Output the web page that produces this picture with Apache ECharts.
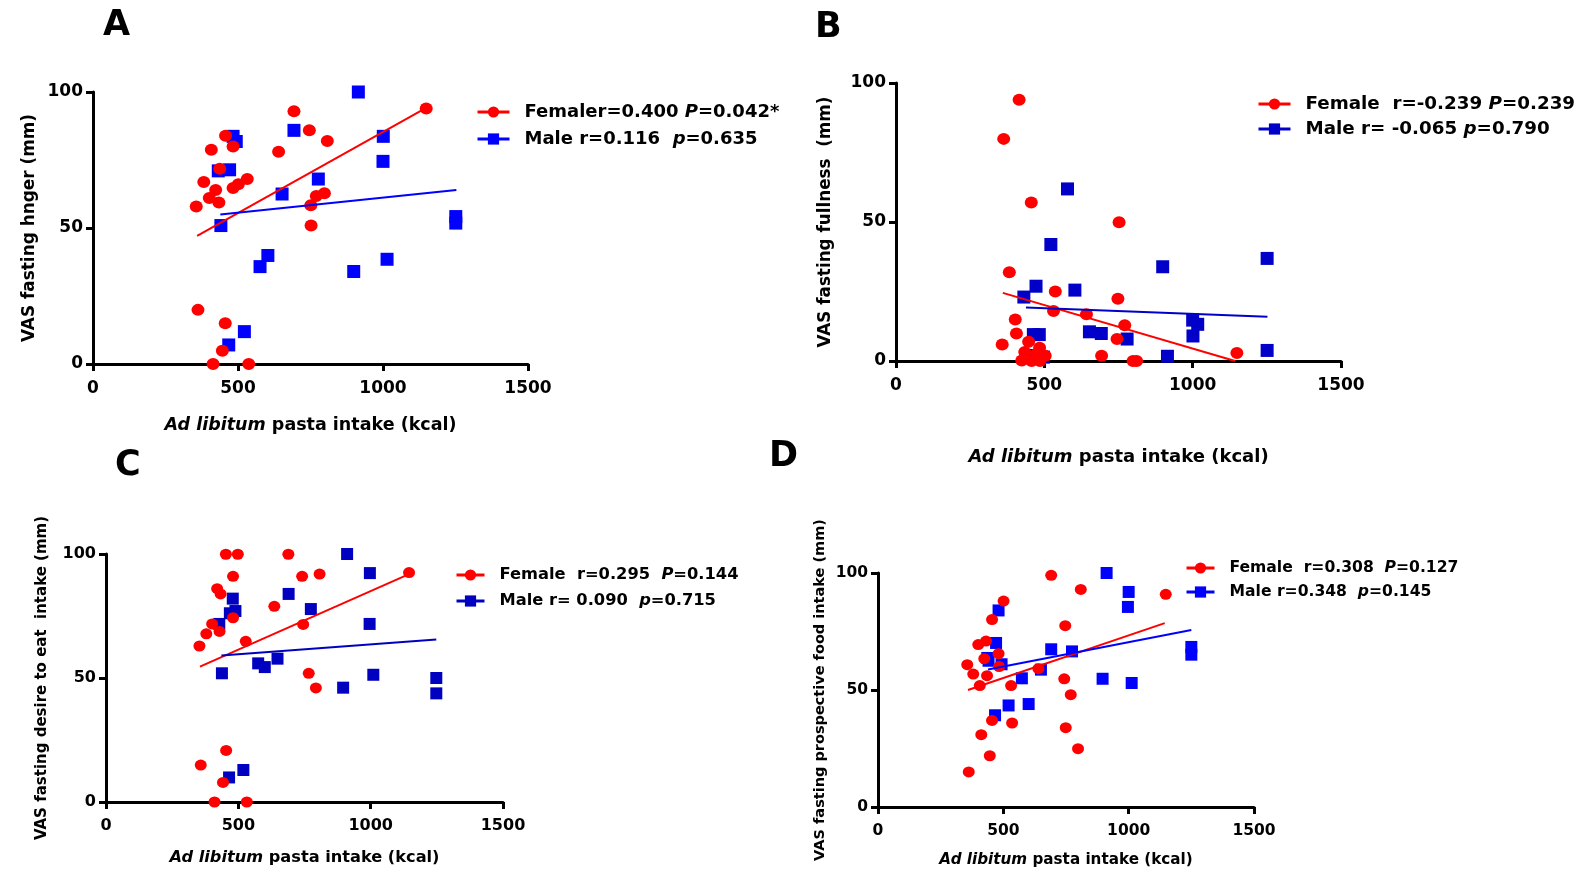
<!DOCTYPE html>
<html>
<head>
<meta charset="utf-8">
<script src="https://cdn.jsdelivr.net/npm/echarts@6/dist/echarts.min.js"></script>
<style>html,body{margin:0;padding:0;background:#fff}#c{width:1587px;height:872px}</style>
</head>
<body>
<div id="c"></div>
<script>
// ---------- data ----------
const xTicks = [0, 500, 1000, 1500];
const yTicks = [0, 50, 100];

const aFemale = [[356,57.9],[362,19.9],[382,66.9],[401,61],[408,78.8],[423,64],[434,59.4],[437,71.8],[414,0],[446,4.9],[456,15],[457,83.9],[483,80],[483,64.7],[501,66.1],[532,68],[537,0],[640,78],[693,92.9],[746,85.9],[751,58.4],[752,50.9],[770,61.8],[798,62.8],[808,82],[1149,93.9]];
const aMale = [[432,71],[471,71.4],[441,50.9],[483,83.7],[494,81.8],[468,7],[522,11.9],[576,35.8],[603,39.9],[652,62.5],[693,85.9],[777,68],[899,34],[915,100],[1001,83.7],[1000,74.5],[1014,38.5],[1251,54.2],[1251,51.8]];
const aFemaleFit = [[359,47.1],[1138,93.5]];
const aMaleFit = [[439,55],[1253,64]];

const bFemale = [[415,94],[363,79.9],[456,57],[752,49.9],[382,31.9],[537,25],[748,22.4],[358,5.9],[402,14.9],[406,9.9],[531,18],[642,16.8],[771,12.9],[745,7.9],[693,1.9],[1149,2.9],[799,0],[811,0],[447,6.9],[434,3.2],[484,4.8],[503,1.9],[424,0.2],[457,0],[485,0],[474,2.6]];
const bMale = [[578,61.9],[522,41.9],[899,33.9],[1251,36.9],[472,26.9],[431,23],[603,25.5],[463,9.5],[483,9.5],[652,10.5],[692,9.9],[779,7.9],[915,1.7],[1000,14.7],[1017,13.2],[1001,9],[1251,3.8],[497,1.4],[470,2]];
const bFemaleFit = [[360,24.5],[1143,0]];
const bMaleFit = [[438,19.2],[1252,15.9]];

const cFemale = [[453,99.9],[498,99.9],[689,99.9],[480,91],[420,86],[433,83.9],[480,74.3],[401,71.8],[379,67.8],[429,68.8],[353,62.9],[528,64.8],[636,78.9],[741,91],[807,91.9],[745,71.6],[766,51.9],[793,46],[1145,92.5],[358,14.9],[454,20.8],[442,7.9],[410,0],[532,0]];
const cMale = [[479,82],[489,77],[468,76.1],[428,71.8],[438,51.9],[575,55.9],[600,54.4],[648,57.8],[690,83.9],[774,77.8],[911,100],[997,92.3],[996,71.8],[1010,51.3],[896,46.1],[1248,50],[1248,43.8],[465,9.9],[519,12.9]];
const cFemaleFit = [[355,54.6],[1147,92]];
const cMaleFit = [[436,59.1],[1248,65.5]];

const dFemale = [[356,60.8],[380,56.8],[400,69.4],[431,70.9],[424,63.4],[435,56.1],[406,51.9],[455,80.1],[481,65.5],[483,60],[501,88],[531,51.9],[535,35.9],[455,37],[412,30.9],[446,21.9],[362,15],[640,59.1],[691,99],[747,77.5],[743,54.8],[769,48],[749,33.9],[798,24.9],[809,93],[1148,90.9]];
const dMale = [[481,84],[471,70.1],[436,63.7],[441,62.5],[493,61],[574,55],[650,58.7],[691,67.4],[774,66.5],[521,43.4],[601,44],[467,39.2],[912,100],[1000,91.9],[997,85.5],[896,54.8],[1012,53],[1250,68.4],[1250,65.1]];
const dFemaleFit = [[359,50],[1144,78.6]];
const dMaleFit = [[439,58.8],[1250,75.6]];

const panelLetters = ['A', 'B', 'C', 'D'];
const yTitles = ['VAS fasting hnger (mm)', 'VAS fasting fullness  (mm)', 'VAS fasting desire to eat  intake (mm)', 'VAS fasting prospective food intake (mm)'];
const xTitle = '{i|Ad libitum} pasta intake (kcal)';
const femaleLabels = ['Femaler=0.400 P=0.042*', 'Female  r=-0.239 P=0.239', 'Female  r=0.295  P=0.144', 'Female  r=0.308  P=0.127'];
const maleLabels = ['Male r=0.116  p=0.635', 'Male r= -0.065 p=0.790', 'Male r= 0.090  p=0.715', 'Male r=0.348  p=0.145'];

// ---------- layout / style ----------
const panels = [
  {f: aFemale, m: aMale, ff: aFemaleFit, mf: aMaleFit, grid: {left: 93, top: 92, width: 435, height: 272},
   letter: {left: 98, top: 3}, xGap: 52, yGap: 55, tick: 17, xName: 17.5, yName: 16.9,
   legend: {left: 476, top: 103, itemWidth: 32, gap: 9, font: 18}, blue: '#0000ff', sym: [13, 12], sq: 13},
  {f: bFemale, m: bMale, ff: bFemaleFit, mf: bMaleFit, grid: {left: 896, top: 83, width: 445, height: 278},
   letter: {left: 810, top: 5}, xGap: 87, yGap: 62, tick: 17, xName: 18, yName: 16.8,
   legend: {left: 1257, top: 95, itemWidth: 32, gap: 7, font: 18.3},  blue: '#0000c8', sym: [13, 12], sq: 13},
  {f: cFemale, m: cMale, ff: cFemaleFit, mf: cMaleFit, grid: {left: 106, top: 554, width: 397, height: 248},
   letter: {left: 110, top: 443}, xGap: 48, yGap: 56, tick: 16, xName: 16.2, yName: 15,
   legend: {left: 455, top: 567, itemWidth: 28, gap: 10, font: 16.3}, blue: '#0000c0', sym: [12, 11], sq: 12},
  {f: dFemale, m: dMale, ff: dFemaleFit, mf: dMaleFit, grid: {left: 878, top: 573, width: 376, height: 234},
   letter: {left: 764, top: 434}, xGap: 46, yGap: 50, tick: 15.5, xName: 15.2, yName: 14.5,
   legend: {left: 1185, top: 560, itemWidth: 28, gap: 8, font: 15.6}, blue: '#0000ff', sym: [12, 11], sq: 12}
];

const RED = '#ff0000';
const TXT = 'DejaVu Sans';

function rich(size) {
  return {
    i: {fontFamily: TXT, fontWeight: 'bold', fontStyle: 'italic', fontSize: size, color: '#000'},
    n: {fontFamily: TXT, fontWeight: 'bold', fontSize: size, color: '#000'}
  };
}
function legendFmt(name) {
  return '{n|' + name.replace(/ ([Pp])=/, ' }{i|$1}{n|=') + '}';
}

const option = {
  animation: false,
  backgroundColor: '#fff',
  title: [], grid: [], xAxis: [], yAxis: [], legend: [], series: []
};

panels.forEach((p, k) => {
  option.title.push({text: panelLetters[k], left: p.letter.left, top: p.letter.top,
    textStyle: {fontFamily: TXT, fontWeight: 'bold', fontSize: 35, color: '#000'}});
  option.grid.push(Object.assign({containLabel: false}, p.grid));
  const axisCommon = {
    gridIndex: k, type: 'value',
    axisLine: {show: true, onZero: false, lineStyle: {color: '#000', width: 3}},
    axisTick: {show: true, length: 7, lineStyle: {color: '#000', width: 3}},
    splitLine: {show: false},
    axisLabel: {fontFamily: TXT, fontWeight: 'bold', fontSize: p.tick, color: '#000', formatter: v => String(v)}
  };
  option.xAxis.push(Object.assign({}, axisCommon, {
    min: xTicks[0], max: xTicks[xTicks.length - 1], interval: xTicks[1] - xTicks[0],
    axisLabel: Object.assign({}, axisCommon.axisLabel, {margin: 16}),
    name: xTitle, nameLocation: 'middle', nameGap: p.xGap,
    nameTextStyle: {fontFamily: TXT, fontWeight: 'bold', fontSize: p.xName, color: '#000', rich: rich(p.xName)}
  }));
  option.yAxis.push(Object.assign({}, axisCommon, {
    min: yTicks[0], max: yTicks[yTicks.length - 1], interval: yTicks[1] - yTicks[0],
    axisLabel: Object.assign({}, axisCommon.axisLabel, {margin: 10}),
    name: yTitles[k], nameLocation: 'middle', nameGap: p.yGap, nameRotate: 90,
    nameTextStyle: {fontFamily: TXT, fontWeight: 'bold', fontSize: p.yName, color: '#000'}
  }));
  option.legend.push({
    orient: 'vertical', left: p.legend.left, top: p.legend.top, padding: 0,
    itemWidth: p.legend.itemWidth, itemHeight: 14, itemGap: p.legend.gap,
    data: [femaleLabels[k], maleLabels[k]],
    formatter: legendFmt, selectedMode: false,
    lineStyle: {width: 3},
    textStyle: {fontFamily: TXT, fontWeight: 'bold', fontSize: p.legend.font, color: '#000',
      padding: [0, 0, 0, 10], rich: rich(p.legend.font)}
  });
  // fit lines (also supply legend icons)
  option.series.push({
    name: femaleLabels[k], type: 'line', xAxisIndex: k, yAxisIndex: k, data: p.ff,
    symbol: 'circle', symbolSize: 12, showSymbol: false, z: 5,
    lineStyle: {color: RED, width: 2}, itemStyle: {color: RED}
  });
  option.series.push({
    name: maleLabels[k], type: 'line', xAxisIndex: k, yAxisIndex: k, data: p.mf,
    symbol: 'rect', symbolSize: 12, showSymbol: false, z: 5,
    lineStyle: {color: p.blue, width: 2}, itemStyle: {color: p.blue}
  });
  option.series.push({
    name: 'male points ' + k, type: 'scatter', xAxisIndex: k, yAxisIndex: k, data: p.m,
    symbol: 'rect', symbolSize: p.sq, itemStyle: {color: p.blue, opacity: 1}, z: 3
  });
  option.series.push({
    name: 'female points ' + k, type: 'scatter', xAxisIndex: k, yAxisIndex: k, data: p.f,
    symbol: 'circle', symbolSize: p.sym, itemStyle: {color: RED, opacity: 1}, z: 4
  });
});

const chart = echarts.init(document.getElementById('c'), null, {renderer: 'canvas'});
chart.setOption(option);
</script>
</body>
</html>
